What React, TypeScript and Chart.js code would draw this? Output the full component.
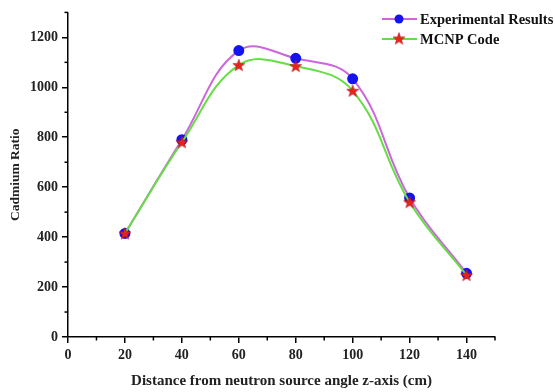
import React, { useEffect, useRef } from "react";
import { Chart, registerables } from "chart.js";

Chart.register(...registerables);

const distances = [20, 40, 60, 80, 100, 120, 140];
const experimental = [415, 790, 1147, 1116, 1034, 557, 255];
const mcnp = [415, 780, 1089, 1085, 986, 540, 248];
const seriesNames = ["Experimental Results", "MCNP Code"];
const xTickValues = [0, 20, 40, 60, 80, 100, 120, 140];
const yTickValues = [0, 200, 400, 600, 800, 1000, 1200];
const xTitle = "Distance from neutron source angle z-axis (cm)";
const yTitle = "Cadmium Ratio";

const FONT = '"Liberation Serif", "Times New Roman", serif';

function makeStar(): HTMLCanvasElement {
  const c = document.createElement("canvas");
  c.width = 14;
  c.height = 14;
  const ctx = c.getContext("2d")!;
  const cx = 7, cy = 7.5, R = 6.3, r = 2.6;
  ctx.beginPath();
  for (let i = 0; i < 10; i++) {
    const a = -Math.PI / 2 + (i * Math.PI) / 5;
    const rad = i % 2 === 0 ? R : r;
    const px = cx + rad * Math.cos(a);
    const py = cy + rad * Math.sin(a);
    if (i === 0) ctx.moveTo(px, py);
    else ctx.lineTo(px, py);
  }
  ctx.closePath();
  ctx.fillStyle = "#e8231e";
  ctx.fill();
  ctx.strokeStyle = "#b01010";
  ctx.lineWidth = 0.6;
  ctx.stroke();
  return c;
}

export default function App() {
  const ref = useRef<HTMLCanvasElement | null>(null);

  useEffect(() => {
    const star = makeStar();
    const magenta = "#cc66dd";
    const green = "#66dd44";
    const blue = "#1414f0";

    const extras = {
      id: "extras",
      afterDraw(chart: any) {
        const ctx = chart.ctx;
        const xs = chart.scales.x;
        const ys = chart.scales.y;
        const area = chart.chartArea;
        ctx.save();
        ctx.strokeStyle = "#000";
        ctx.lineWidth = 1.5;
        for (let v = 10; v <= 150; v += 20) {
          const px = xs.getPixelForValue(v);
          ctx.beginPath();
          ctx.moveTo(px, area.bottom);
          ctx.lineTo(px, area.bottom + 3.5);
          ctx.stroke();
        }
        for (let v = 100; v <= 1300; v += 200) {
          const py = ys.getPixelForValue(v);
          ctx.beginPath();
          ctx.moveTo(area.left, py);
          ctx.lineTo(area.left - 3.5, py);
          ctx.stroke();
        }
        const rows = [
          { name: seriesNames[0], color: magenta, y: 19, marker: "circle" },
          { name: seriesNames[1], color: green, y: 39, marker: "star" },
        ];
        rows.forEach((r) => {
          ctx.strokeStyle = r.color;
          ctx.lineWidth = 2;
          ctx.beginPath();
          ctx.moveTo(382, r.y);
          ctx.lineTo(417, r.y);
          ctx.stroke();
          if (r.marker === "circle") {
            ctx.fillStyle = blue;
            ctx.beginPath();
            ctx.arc(399, r.y, 4.5, 0, Math.PI * 2);
            ctx.fill();
          } else {
            ctx.drawImage(star, 399 - 7, r.y - 7.5);
          }
          ctx.fillStyle = "#111";
          ctx.font = `bold 14.5px ${FONT}`;
          ctx.textBaseline = "middle";
          ctx.textAlign = "left";
          ctx.fillText(r.name, 420, r.y + 1);
        });
        ctx.restore();
      },
    };

    const chart = new Chart(ref.current!, {
      type: "line",
      data: {
        datasets: [
          {
            label: seriesNames[1],
            data: distances.map((d, i) => ({ x: d, y: mcnp[i] })),
            borderColor: green,
            backgroundColor: "#e8231e",
            borderWidth: 2,
            tension: 0.4,
            pointStyle: star as any,
            pointRadius: 6,
            order: 0,
          },
          {
            label: seriesNames[0],
            data: distances.map((d, i) => ({ x: d, y: experimental[i] })),
            borderColor: magenta,
            backgroundColor: blue,
            pointBackgroundColor: blue,
            pointBorderColor: blue,
            borderWidth: 2,
            tension: 0.4,
            pointStyle: "circle",
            pointRadius: 4.5,
            order: 1,
          },
        ],
      },
      options: {
        animation: false,
        responsive: false,
        devicePixelRatio: 1,
        layout: { padding: { top: 8, right: 60, left: 0, bottom: 0 } },
        plugins: { legend: { display: false }, tooltip: { enabled: false } },
        scales: {
          x: {
            type: "linear",
            min: 0,
            max: 150,
            afterFit: (s: any) => {
              s.height = 55;
            },
            afterBuildTicks: (s: any) => {
              s.ticks = xTickValues.map((v) => ({ value: v }));
            },
            ticks: {
              color: "#222",
              font: { family: FONT, size: 14, weight: "bold" },
              padding: 4,
              maxRotation: 0,
              autoSkip: false,
              callback: (v: any) => String(v),
            },
            grid: {
              drawOnChartArea: false,
              drawTicks: true,
              tickLength: 6,
              tickColor: "#000",
              lineWidth: 1.5,
            },
            border: { display: true, color: "#000", width: 1.5 },
            title: {
              display: true,
              text: xTitle,
              color: "#222",
              font: { family: FONT, size: 15, weight: "bold" },
              padding: { top: 0, bottom: 2 },
            },
          },
          y: {
            type: "linear",
            min: 0,
            max: 1300,
            afterFit: (s: any) => {
              s.width = 68;
            },
            afterBuildTicks: (s: any) => {
              s.ticks = yTickValues.map((v) => ({ value: v }));
            },
            ticks: {
              color: "#222",
              font: { family: FONT, size: 14, weight: "bold" },
              padding: 4,
              autoSkip: false,
              callback: (v: any) => String(v),
            },
            grid: {
              drawOnChartArea: false,
              drawTicks: true,
              tickLength: 6,
              tickColor: "#000",
              lineWidth: 1.5,
            },
            border: { display: true, color: "#000", width: 1.5 },
            title: {
              display: true,
              text: yTitle,
              color: "#222",
              font: { family: FONT, size: 13.5, weight: "bold" },
              padding: { top: 7, bottom: 0 },
            },
          },
        },
      },
      plugins: [extras],
    } as any);

    return () => chart.destroy();
  }, []);

  return (
    <div style={{ position: "fixed", left: 0, top: 0, width: 555, height: 392, background: "#fff" }}>
      <canvas ref={ref} width={555} height={392} style={{ width: 555, height: 392 }} />
    </div>
  );
}
